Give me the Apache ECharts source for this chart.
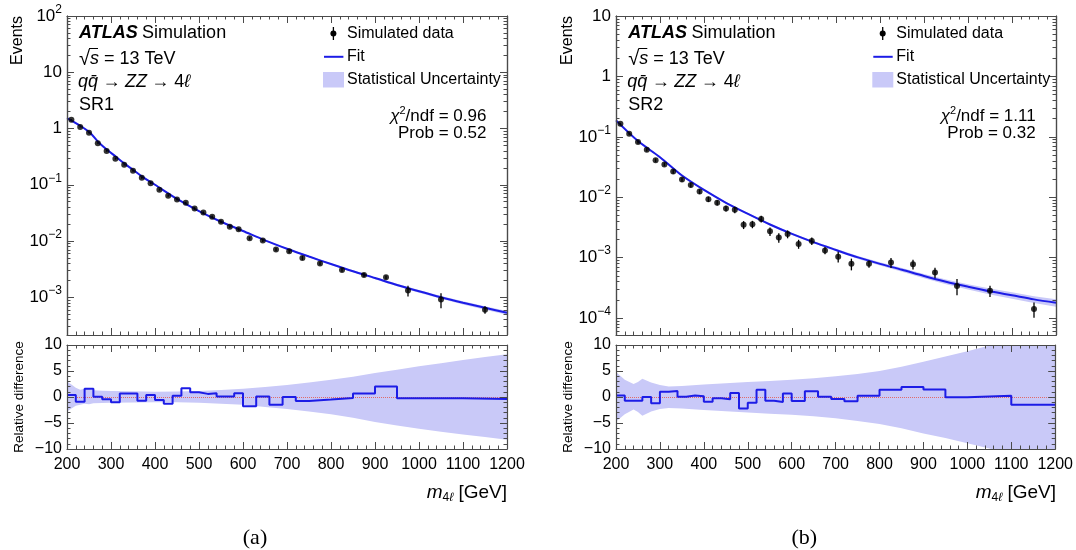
<!DOCTYPE html>
<html><head><meta charset="utf-8">
<script src="https://cdn.jsdelivr.net/npm/echarts@6.0.0/dist/echarts.min.js"></script>
<style>html,body{margin:0;padding:0;background:#fff}#c{width:1076px;height:550px}</style>
</head><body><div id="c"></div><script>
// ---------------- data ----------------
const binEdges = [200,220,240,260,280,300,320,340,360,380,400,420,440,460,480,500,520,540,560,580,600,630,660,690,720,750,800,850,900,950,1000,1100,1200];
const xTickInterval = 100;

// Panel (a) SR1
const dataA = [1.43,1.06,0.84,0.55,0.40,0.29,0.226,0.177,0.133,0.107,0.082,0.064,0.055,0.048,0.038,0.032,0.027,0.022,0.018,0.0162,0.0112,0.0102,0.0071,0.0066,0.0050,0.0040,0.00306,0.0025,0.00227,0.00132,0.00091,0.00060];
const errA = [0.02,0.02,0.025,0.025,0.03,0.03,0.03,0.035,0.035,0.04,0.04,0.04,0.045,0.045,0.05,0.05,0.05,0.055,0.055,0.06,0.06,0.06,0.07,0.07,0.08,0.07,0.07,0.08,0.08,0.22,0.30,0.15];
const relDiffA = [0.4,-0.9,1.6,0.05,-0.45,-1.0,0.65,0.65,-0.7,0.4,-0.6,-1.3,0.25,1.7,0.9,0.6,0.7,0.1,0.1,0.7,-1.8,0.1,-1.5,0.0,-0.75,-0.5,-0.2,0.65,2.0,-0.25,-0.25,-0.4];
const fitXA = [200,230,253,272,291,310,330,350,370,400,450,500,550,600,650,700,750,800,850,900,950,1000,1050,1100,1150,1200];
const fitA = [1.53,1.12,0.83,0.565,0.42,0.32,0.24,0.185,0.141,0.10,0.056,0.034,0.022,0.0151,0.0103,0.0073,0.0053,0.0039,0.0029,0.0022,0.00166,0.00128,0.00100,0.0008,0.00065,0.00053];
const uncA = [0.04,0.035,0.03,0.028,0.026,0.025,0.024,0.023,0.022,0.02,0.02,0.02,0.022,0.025,0.027,0.03,0.032,0.035,0.04,0.045,0.05,0.055,0.06,0.065,0.072,0.08];
const relXA = [200,210,220,230,240,250,260,280,300,350,400,450,500,550,600,650,700,750,800,850,900,950,1000,1050,1100,1150,1200];
const relHiA = [3.0,2.4,1.8,1.4,1.6,1.5,1.3,1.2,1.15,1.1,1.0,1.05,1.15,1.35,1.6,1.9,2.3,2.8,3.3,3.9,4.6,5.25,5.9,6.5,7.1,7.7,8.2];
const relLoA = [-2.8,-2.2,-1.7,-1.5,-1.3,-1.4,-1.2,-1.15,-1.1,-1.05,-1.0,-1.0,-1.1,-1.3,-1.5,-1.9,-2.3,-2.8,-3.3,-4.0,-4.8,-5.5,-6.1,-6.7,-7.2,-7.7,-8.2];
const yExpA = [-3,-2,-1,0,1,2];

// Panel (b) SR2
const dataB = [0.164,0.112,0.082,0.061,0.041,0.035,0.0266,0.0196,0.016,0.0124,0.0093,0.0081,0.0065,0.0062,0.0035,0.00357,0.00438,0.00273,0.00215,0.00246,0.00169,0.00189,0.00132,0.00104,0.00079,0.00079,0.00083,0.00078,0.00057,0.00034,0.000284,0.000141];
const errB = [0.04,0.05,0.06,0.06,0.07,0.07,0.08,0.08,0.09,0.09,0.10,0.10,0.11,0.12,0.15,0.14,0.13,0.16,0.18,0.15,0.17,0.14,0.14,0.20,0.22,0.14,0.19,0.18,0.20,0.30,0.21,0.28];
const relDiffB = [0.3,-0.7,-0.7,0.0,-1.2,1.0,1.15,0.05,0.3,0.15,-0.9,-0.25,-0.45,0.75,-2.2,-1.1,1.4,-0.7,-0.95,0.65,-0.75,1.1,0.05,-0.4,-0.8,0.25,1.4,1.9,1.45,-0.05,0.25,-1.5];
const fitXB = [200,250,300,350,400,450,500,550,600,650,700,750,800,850,900,950,1000,1050,1100,1150,1200];
const fitB = [0.187,0.085,0.046,0.0229,0.0132,0.0081,0.0053,0.00354,0.00247,0.00179,0.00134,0.00101,0.00079,0.00063,0.000497,0.0004,0.000331,0.000277,0.000238,0.000204,0.000179];
const uncB = [0.06,0.045,0.04,0.037,0.035,0.035,0.035,0.037,0.04,0.045,0.05,0.055,0.06,0.07,0.08,0.09,0.10,0.11,0.12,0.13,0.14];
const relXB = [200,220,240,250,260,280,300,320,350,400,450,500,550,600,650,700,750,800,850,900,950,1000,1050,1100,1150,1200];
const relHiB = [4.8,3.3,2.5,2.9,3.5,2.8,2.3,2.0,2.1,2.4,2.65,2.9,3.1,3.3,3.6,4.0,4.4,5.0,5.8,6.8,7.8,8.8,9.9,11.0,12.0,13.0];
const relLoB = [-4.7,-3.3,-2.4,-2.9,-3.6,-2.8,-2.3,-2.1,-2.2,-2.5,-2.75,-3.0,-3.2,-3.4,-3.7,-4.1,-4.6,-5.2,-6.0,-7.0,-7.9,-8.9,-9.9,-11.0,-12.0,-13.0];
const yExpB = [-4,-3,-2,-1,0,1];

const relTicks = {min:-10, max:10, interval:5};
// ---------------- style ----------------
const FONT = '"Liberation Sans", Arial, Helvetica, sans-serif';
const BLUE = '#1c1ce6';
const BAND = '#c9c9f8';
const FRAME = '#4a4a4a';
const lg = v => Math.log10(v);
const centers = binEdges.slice(0, -1).map((e, i) => (e + binEdges[i + 1]) / 2);

const panels = [
  {left: 67, dx: 0, yMin: -3.67, yMax: 2, exps: yExpA, data: dataA, err: errA, rel: relDiffA, fitX: fitXA, fit: fitA, unc: uncA, relX: relXA, relHi: relHiA, relLo: relLoA, sr: 'SR1', chi: '0.96', prob: '0.52', tag: '(a)'},
  {left: 616, dx: 549.3, yMin: -4.28, yMax: 1, exps: yExpB, data: dataB, err: errB, rel: relDiffB, fitX: fitXB, fit: fitB, unc: uncB, relX: relXB, relHi: relHiB, relLo: relLoB, sr: 'SR2', chi: '1.11', prob: '0.32', tag: '(b)'}
];
const PW = 440, UP_TOP = 16, UP_H = 319, LO_TOP = 345, LO_H = 104;

const grids = [], xAxes = [], yAxes = [], series = [], graphics = [];
const lineCol = {color: FRAME, width: 1.2};
const tickCol = {color: FRAME, width: 1};

function powLabel(v) {
  const n = Math.round(v);
  if (n === 0) return '{b|1}';
  if (n === 1) return '{b|10}';
  return '{b|10}{s|' + String(n).replace('-', '\u2212') + '}';
}
const powRich = {
  b: {fontFamily: FONT, fontSize: 17, color: '#000'},
  s: {fontFamily: FONT, fontSize: 12, color: '#000', padding: [0, 0, 13, 0]}
};

function addXAxes(g, labels) {
  const common = {type: 'value', gridIndex: g, min: binEdges[0], max: binEdges[binEdges.length - 1], interval: xTickInterval, z: 10,
    axisLine: {show: true, onZero: false, lineStyle: lineCol},
    axisTick: {show: true, inside: true, length: 7, lineStyle: tickCol},
    minorTick: {show: true, splitNumber: 5, length: 3.5, lineStyle: tickCol},
    splitLine: {show: false}};
  const bi = xAxes.length;
  xAxes.push(Object.assign({}, common, {position: 'bottom', axisLabel: {show: labels, margin: 8, fontFamily: FONT, fontSize: 16, color: '#000', showMinLabel: true, showMaxLabel: true,
    formatter: v => String(v)}}));
  xAxes.push(Object.assign({}, common, {position: 'top', axisLabel: {show: false}}));
  return bi;
}

panels.forEach((P, pi) => {
  const gU = grids.length;
  grids.push({left: P.left, top: UP_TOP, width: PW, height: UP_H, show: false});
  const gL = grids.length;
  grids.push({left: P.left, top: LO_TOP, width: PW, height: LO_H, show: false});

  const xU = addXAxes(gU, false);
  const xL = addXAxes(gL, true);

  // upper y axes (log10 of events)
  const majors = P.exps;
  const minors = [];
  for (let n = Math.floor(P.yMin); n < P.yMax; n++) for (let k = 2; k <= 9; k++) {
    const v = n + Math.log10(k); if (v > P.yMin && v < P.yMax) minors.push(v);
  }
  const baseU = {type: 'value', gridIndex: gU, min: P.yMin, max: P.yMax, z: 10, splitLine: {show: false},
    axisLine: {show: true, onZero: false, lineStyle: lineCol}};
  const yU = yAxes.length;
  yAxes.push(Object.assign({}, baseU, {position: 'left',
    axisTick: {show: true, inside: true, length: 7, customValues: majors, lineStyle: tickCol},
    axisLabel: {show: true, customValues: majors, margin: 5, formatter: powLabel, rich: powRich, showMinLabel: true, showMaxLabel: true}}));
  yAxes.push(Object.assign({}, baseU, {position: 'left',
    axisTick: {show: true, inside: true, length: 3.5, customValues: minors, lineStyle: tickCol}, axisLabel: {show: false}}));
  yAxes.push(Object.assign({}, baseU, {position: 'right',
    axisTick: {show: true, inside: true, length: 7, customValues: majors, lineStyle: tickCol}, axisLabel: {show: false}}));
  yAxes.push(Object.assign({}, baseU, {position: 'right',
    axisTick: {show: true, inside: true, length: 3.5, customValues: minors, lineStyle: tickCol}, axisLabel: {show: false}}));

  // lower y axes
  const baseL = {type: 'value', gridIndex: gL, min: relTicks.min, max: relTicks.max, interval: relTicks.interval, z: 10, splitLine: {show: false},
    axisLine: {show: true, onZero: false, lineStyle: lineCol},
    axisTick: {show: true, inside: true, length: 7, lineStyle: tickCol},
    minorTick: {show: true, splitNumber: 5, length: 3.5, lineStyle: tickCol}};
  const yL = yAxes.length;
  yAxes.push(Object.assign({}, baseL, {position: 'left', axisLabel: {show: true, margin: 5, fontFamily: FONT, fontSize: 16, color: '#000', showMinLabel: true, showMaxLabel: true,
    formatter: v => String(v).replace('-', '\u2212')}}));
  yAxes.push(Object.assign({}, baseL, {position: 'right', axisLabel: {show: false}}));

  function bandSeries(xi, yi, pts, z) {
    return {type: 'custom', xAxisIndex: xi, yAxisIndex: yi, z: z, silent: true, clip: true,
      data: pts, encode: {x: 0, y: [1, 2]},
      renderItem: (p, api) => {
        if (p.dataIndex !== 0) return null;
        const up = pts.map(q => api.coord([q[0], q[2]]));
        const dn = pts.map(q => api.coord([q[0], q[1]])).reverse();
        return {type: 'polygon', shape: {points: up.concat(dn)}, style: {fill: BAND}};
      }};
  }

  // upper: stat band, fit, data with error bars
  series.push(bandSeries(xU, yU, P.fitX.map((x, i) => [x, lg(P.fit[i] * (1 - P.unc[i])), lg(P.fit[i] * (1 + P.unc[i]))]), 1));
  series.push({type: 'line', xAxisIndex: xU, yAxisIndex: yU, z: 3, symbol: 'none', smooth: 0.3,
    data: P.fitX.map((x, i) => [x, lg(P.fit[i])]), lineStyle: {color: BLUE, width: 2}});
  series.push({type: 'custom', xAxisIndex: xU, yAxisIndex: yU, z: 4, silent: true,
    data: centers.map((x, i) => [x, lg(P.data[i] * (1 - P.err[i])), lg(P.data[i] * (1 + P.err[i]))]),
    encode: {x: 0, y: [1, 2]},
    renderItem: (p, api) => {
      const a = api.coord([api.value(0), api.value(1)]);
      const b = api.coord([api.value(0), api.value(2)]);
      return {type: 'line', shape: {x1: a[0], y1: a[1], x2: b[0], y2: b[1]}, style: {stroke: '#000', lineWidth: 1.3}};
    }});
  series.push({type: 'scatter', xAxisIndex: xU, yAxisIndex: yU, z: 5, symbol: 'circle', symbolSize: 6,
    itemStyle: {color: '#000'}, data: centers.map((x, i) => [x, lg(P.data[i])])});

  // lower: band, zero line, step histogram
  series.push(bandSeries(xL, yL, P.relX.map((x, i) => [x, P.relLo[i], P.relHi[i]]), 1));
  series.push({type: 'line', xAxisIndex: xL, yAxisIndex: yL, z: 5, step: 'end', symbol: 'none',
    data: binEdges.map((e, i) => [e, P.rel[Math.min(i, P.rel.length - 1)]]),
    lineStyle: {color: BLUE, width: 2},
    markLine: {silent: true, symbol: 'none', label: {show: false}, z: 3,
      lineStyle: {color: '#e06a6a', width: 1, type: 'dotted'}, data: [{yAxis: 0}]}});

  // texts
  const dx = P.dx;
  const T = (x, y, text, extra) => graphics.push({type: 'text', x: x, y: y, z: 100,
    style: Object.assign({text: text, fill: '#000', fontFamily: FONT, fontSize: 16, align: 'left', textAlign: 'left', verticalAlign: 'middle', textVerticalAlign: 'middle'}, extra || {})});
  T(79 + dx, 33, '{a|ATLAS} {n|Simulation}', {rich: {a: {fontFamily: FONT, fontSize: 18, fontWeight: 'bold', fontStyle: 'italic'}, n: {fontFamily: FONT, fontSize: 18}}});
  T(79 + dx, 59, '{r|\u221A}{i|s}{n| = 13 TeV}', {rich: {r: {fontFamily: FONT, fontSize: 20}, i: {fontFamily: FONT, fontSize: 18, fontStyle: 'italic'}, n: {fontFamily: FONT, fontSize: 18}}});
  graphics.push({type: 'line', z: 100, shape: {x1: 89 + dx, y1: 48.5, x2: 98 + dx, y2: 48.5}, style: {stroke: '#000', lineWidth: 1}});
  T(78 + dx, 82, '{i|qq\u0304} {n|\u2192} {i|ZZ} {n|\u2192 4}{i|\u2113}', {rich: {i: {fontFamily: FONT, fontSize: 18, fontStyle: 'italic'}, n: {fontFamily: FONT, fontSize: 18}}});
  T(79 + dx, 105, P.sr, {fontSize: 18});
  // legend
  graphics.push({type: 'line', z: 100, shape: {x1: 333.4 + dx, y1: 27, x2: 333.4 + dx, y2: 40}, style: {stroke: '#000', lineWidth: 1.3}});
  graphics.push({type: 'circle', z: 100, shape: {cx: 333.4 + dx, cy: 33.4, r: 3}, style: {fill: '#000'}});
  T(347 + dx, 33.4, 'Simulated data');
  graphics.push({type: 'line', z: 100, shape: {x1: 324 + dx, y1: 56.8, x2: 343.4 + dx, y2: 56.8}, style: {stroke: BLUE, lineWidth: 2}});
  T(347 + dx, 56.8, 'Fit');
  graphics.push({type: 'rect', z: 100, shape: {x: 323 + dx, y: 72, width: 21, height: 15.5}, style: {fill: BAND}});
  T(347 + dx, 79.5, 'Statistical Uncertainty');
  T(486.4 + dx, 116.5, '{i|\u03C7}{s|2}{n|/ndf = ' + P.chi + '}', {align: 'right', textAlign: 'right',
    rich: {i: {fontFamily: FONT, fontSize: 17, fontStyle: 'italic'}, s: {fontFamily: FONT, fontSize: 11, padding: [0, 0, 11, 0]}, n: {fontFamily: FONT, fontSize: 17}}});
  T(486.4 + dx, 133.5, 'Prob = ' + P.prob, {align: 'right', textAlign: 'right', fontSize: 17});
  // axis titles
  graphics.push({type: 'text', x: 18 + dx, y: 16, rotation: Math.PI / 2, z: 100,
    style: {text: 'Events', fill: '#000', fontFamily: FONT, fontSize: 16, align: 'right', textAlign: 'right', verticalAlign: 'middle', textVerticalAlign: 'middle'}});
  graphics.push({type: 'text', x: 19 + dx, y: 397, rotation: Math.PI / 2, z: 100,
    style: {text: 'Relative difference', fill: '#000', fontFamily: FONT, fontSize: 13.5, align: 'center', textAlign: 'center', verticalAlign: 'middle', textVerticalAlign: 'middle'}});
  T(P.left + PW, 493, '{m|m}{d|4}{l|\u2113}{n| [GeV]}', {align: 'right', textAlign: 'right',
    rich: {m: {fontFamily: FONT, fontSize: 19, fontStyle: 'italic'}, d: {fontFamily: FONT, fontSize: 12, padding: [9, 0, 0, 0]},
      l: {fontFamily: FONT, fontSize: 12, fontStyle: 'italic', padding: [9, 0, 0, 0]}, n: {fontFamily: FONT, fontSize: 19}}});
  T(255 + dx, 538, P.tag, {align: 'center', textAlign: 'center', fontFamily: '"Liberation Serif", "DejaVu Serif", serif', fontSize: 22});
});

const chart = echarts.init(document.getElementById('c'), null, {renderer: 'canvas'});
chart.setOption({
  animation: false,
  backgroundColor: '#fff',
  grid: grids, xAxis: xAxes, yAxis: yAxes, series: series, graphic: graphics
});
</script></body></html>
